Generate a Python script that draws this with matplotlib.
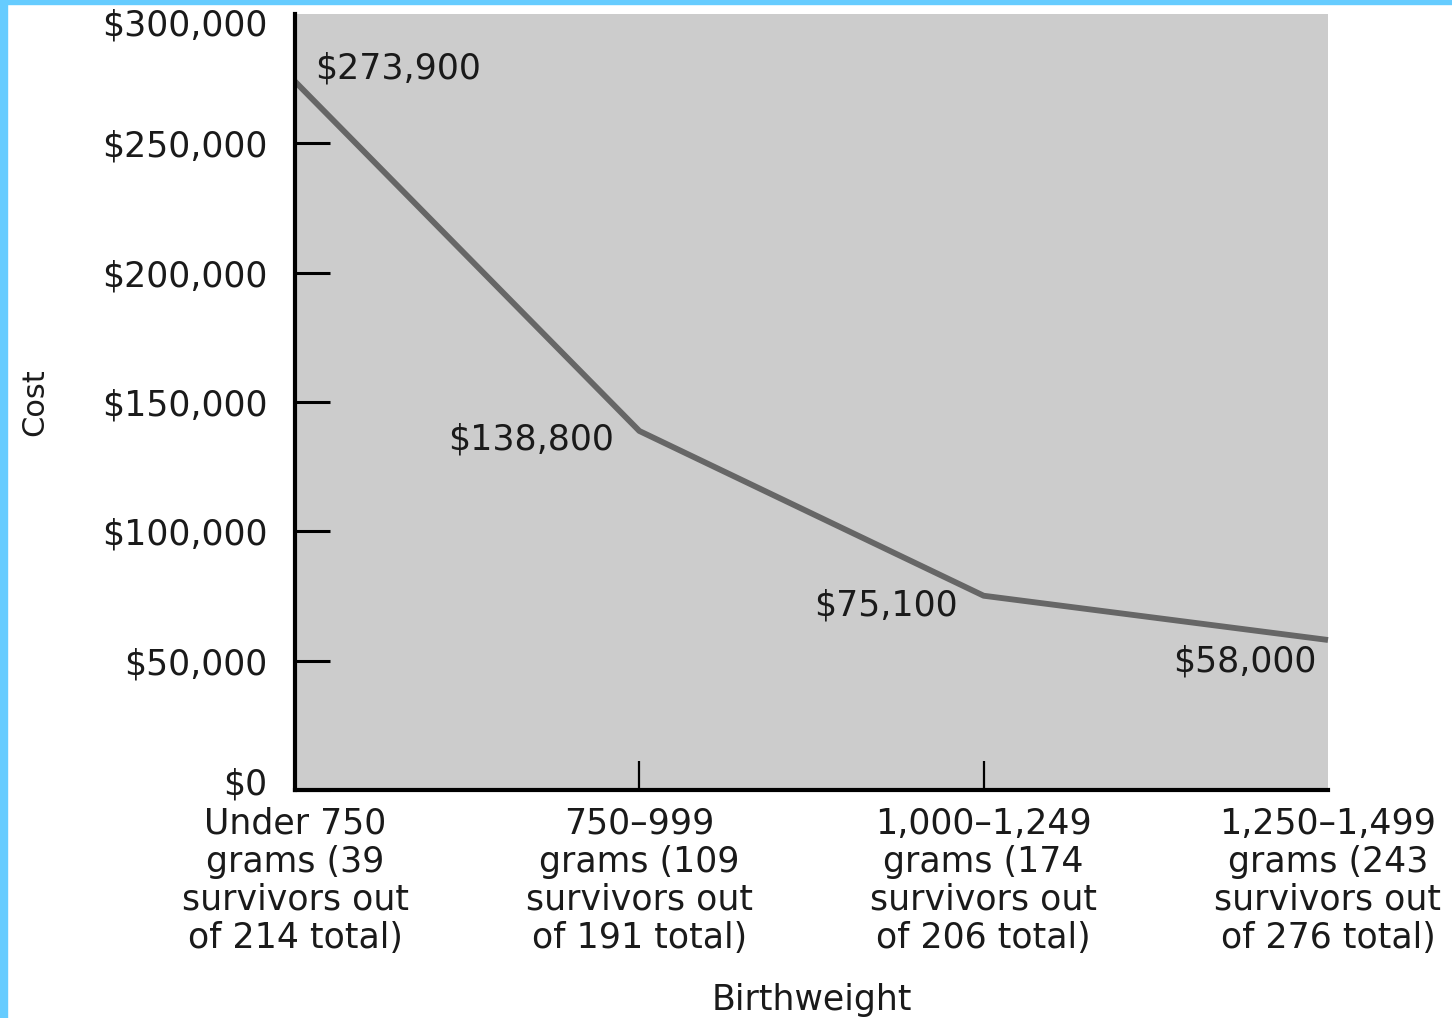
import matplotlib
matplotlib.use("Agg")
import matplotlib.pyplot as plt
from matplotlib.patches import Rectangle
from matplotlib.transforms import ScaledTranslation

# cost per survivor by birthweight group
groups = [
    "Under 750\ngrams (39\nsurvivors out\nof 214 total)",
    "750\u2013999\ngrams (109\nsurvivors out\nof 191 total)",
    "1,000\u20131,249\ngrams (174\nsurvivors out\nof 206 total)",
    "1,250\u20131,499\ngrams (243\nsurvivors out\nof 276 total)",
]
cost = [273900, 138800, 75100, 58000]
yticks = [0, 50000, 100000, 150000, 200000, 250000, 300000]

W, H = 1452, 1018
fig = plt.figure(figsize=(W / 100, H / 100), dpi=100)
fig.patch.set_facecolor("white")

# light blue frame on the top and left edges
fig.patches.append(Rectangle((0, 1 - 4 / H), 1, 4 / H, transform=fig.transFigure,
                             color="#66ccff", zorder=0))
fig.patches.append(Rectangle((0, 0), 7 / W, 1, transform=fig.transFigure,
                             color="#66ccff", zorder=0))

ax = fig.add_axes([295 / W, (H - 790) / H, (1328 - 295) / W, (790 - 14) / H])
ax.set_facecolor("#cccccc")

x = list(range(len(cost)))
ax.plot(x, cost, color="#666666", lw=4.2, solid_capstyle="butt", clip_on=False)

ax.set_xlim(0, 3)
ax.set_ylim(0, 300000)

for s in ["top", "right"]:
    ax.spines[s].set_visible(False)
for s in ["left", "bottom"]:
    ax.spines[s].set_linewidth(3)
    ax.spines[s].set_color("black")

txt = "#1a1a1a"
fs = 25

ax.set_yticks(yticks)
ax.set_yticklabels(["${:,}".format(v) for v in yticks])
ax.tick_params(axis="y", direction="in", length=25, width=2.2, pad=20,
               labelsize=fs, labelcolor=txt)
yt = ax.yaxis.get_major_ticks()
yt[-1].tick1line.set_visible(False)
# nudge the end labels inside the axis range
lo, hi = yt[0].label1, yt[-1].label1
lo.set_transform(lo.get_transform() + ScaledTranslation(0, 0.09, fig.dpi_scale_trans))
hi.set_transform(hi.get_transform() + ScaledTranslation(0, -0.08, fig.dpi_scale_trans))

ax.set_xticks(x)
ax.set_xticklabels(groups, linespacing=1.15)
ax.tick_params(axis="x", direction="in", length=21, width=1.6, pad=12,
               labelsize=fs, labelcolor=txt)
xt = ax.xaxis.get_major_ticks()
xt[0].tick1line.set_visible(False)
xt[-1].tick1line.set_visible(False)

ax.set_xlabel("Birthweight", fontsize=fs, color=txt, labelpad=20)
ax.set_ylabel("Cost", fontsize=22, color=txt)
ax.yaxis.set_label_coords(-0.238, 0.5)

# value labels beside each point
offsets = [(20, 13, "left"), (-25, -9, "right"), (-26, -10, "right"), (-12, -22, "right")]
for xi, v, (dx, dy, ha) in zip(x, cost, offsets):
    ax.annotate("${:,}".format(v), xy=(xi, v), xytext=(dx, dy),
                textcoords="offset pixels", ha=ha, va="center",
                fontsize=fs, color=txt)

fig.savefig("out.png", dpi=100)
